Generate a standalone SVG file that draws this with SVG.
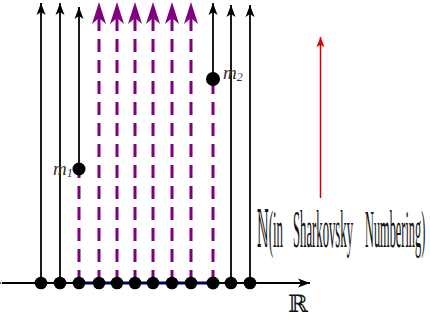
<svg xmlns="http://www.w3.org/2000/svg" width="430" height="323" viewBox="0 0 430 323">
<style>
.blk{stroke:#000;stroke-width:1.8;fill:none}
.pur{stroke:#800080;stroke-width:3;stroke-dasharray:13 8;fill:none}
.dot{fill:#000}
.lbl{font-family:"Liberation Serif","DejaVu Serif",serif;font-style:italic;fill:#333}
.big{font-family:"Liberation Serif","DejaVu Serif",serif;fill:#111;font-size:20px}
</style>
<defs>
<marker id="ab" markerUnits="userSpaceOnUse" viewBox="-13 -6 14 12" refX="0" refY="0" markerWidth="14" markerHeight="12" orient="auto">
<path d="M0,0 L-12,-4.5 L-9,0 L-12,4.5 Z" fill="#000"/>
</marker>
<marker id="ap" markerUnits="userSpaceOnUse" viewBox="-7 -8 24 16" refX="0" refY="0" markerWidth="24" markerHeight="16" orient="auto">
<path d="M16,0 L-6,-7 L0,0 L-6,7 Z" fill="#800080"/>
</marker>
<marker id="ar" markerUnits="userSpaceOnUse" viewBox="-11 -5 12 10" refX="0" refY="0" markerWidth="12" markerHeight="10" orient="auto">
<path d="M0,0 L-10,-4 L-8,0 L-10,4 Z" fill="#e00000"/>
</marker>
</defs>
<g id="connectors">
<line class="blk" x1="2" y1="283" x2="310" y2="283" marker-start="url(#ab)" marker-end="url(#ab)"/>
<line x1="79" y1="283" x2="213" y2="283" stroke="#00006e" stroke-width="3"/>
<line class="blk" x1="41" y1="283" x2="41" y2="3" marker-end="url(#ab)"/>
<line class="blk" x1="60" y1="283" x2="60" y2="3" marker-end="url(#ab)"/>
<line class="blk" x1="79" y1="169" x2="79" y2="7" marker-end="url(#ab)"/>
<line class="pur" x1="79" y1="283" x2="79" y2="175"/>
<line class="pur" x1="99" y1="283" x2="99" y2="18" marker-end="url(#ap)"/>
<line class="pur" x1="117" y1="283" x2="117" y2="18" marker-end="url(#ap)"/>
<line class="pur" x1="135" y1="283" x2="135" y2="18" marker-end="url(#ap)"/>
<line class="pur" x1="153" y1="283" x2="153" y2="18" marker-end="url(#ap)"/>
<line class="pur" x1="172" y1="283" x2="172" y2="18" marker-end="url(#ap)"/>
<line class="pur" x1="191" y1="283" x2="191" y2="18" marker-end="url(#ap)"/>
<line class="blk" x1="213" y1="79" x2="213" y2="3" marker-end="url(#ab)"/>
<line class="pur" x1="213" y1="283" x2="213" y2="85"/>
<line class="blk" x1="231" y1="283" x2="231" y2="5" marker-end="url(#ab)"/>
<line class="blk" x1="250" y1="283" x2="250" y2="5" marker-end="url(#ab)"/>
<line x1="320.5" y1="198" x2="320.5" y2="37" stroke="#d00000" stroke-width="1.5" marker-end="url(#ar)"/>
</g>
<g id="dots">
<circle class="dot" cx="41" cy="283" r="6.3"/>
<circle class="dot" cx="60" cy="283" r="6.3"/>
<circle class="dot" cx="79" cy="283" r="6.3"/>
<circle class="dot" cx="99" cy="283" r="6.3"/>
<circle class="dot" cx="117" cy="283" r="6.3"/>
<circle class="dot" cx="135" cy="283" r="6.3"/>
<circle class="dot" cx="153" cy="283" r="6.3"/>
<circle class="dot" cx="172" cy="283" r="6.3"/>
<circle class="dot" cx="191" cy="283" r="6.3"/>
<circle class="dot" cx="213" cy="283" r="6.5"/>
<circle class="dot" cx="231" cy="283" r="6.3"/>
<circle class="dot" cx="250" cy="283" r="6.3"/>
</g>
<g id="m1">
<circle class="dot" cx="79" cy="169" r="6.5"/>
<text class="lbl" x="53" y="175" font-size="19">m<tspan font-size="12" dy="2">1</tspan></text>
</g>
<g id="m2">
<circle class="dot" cx="213" cy="79" r="7"/>
<text class="lbl" x="223" y="79" font-size="19">m<tspan font-size="12" dy="2">2</tspan></text>
</g>
<g id="labels">
<text class="big" transform="translate(257,247) scale(0.635,2.6)" x="0" y="0" textLength="41" lengthAdjust="spacingAndGlyphs">ℕ(in</text>
<text class="big" transform="translate(293,247) scale(0.635,2.6)" x="0" y="0" textLength="94.5" lengthAdjust="spacingAndGlyphs">Sharkovsky</text>
<text class="big" transform="translate(365,247) scale(0.635,2.6)" x="0" y="0" textLength="95" lengthAdjust="spacingAndGlyphs">Numbering)</text>
<text class="big" x="288" y="312" style="font-size:24px">ℝ</text>
</g>
</svg>
